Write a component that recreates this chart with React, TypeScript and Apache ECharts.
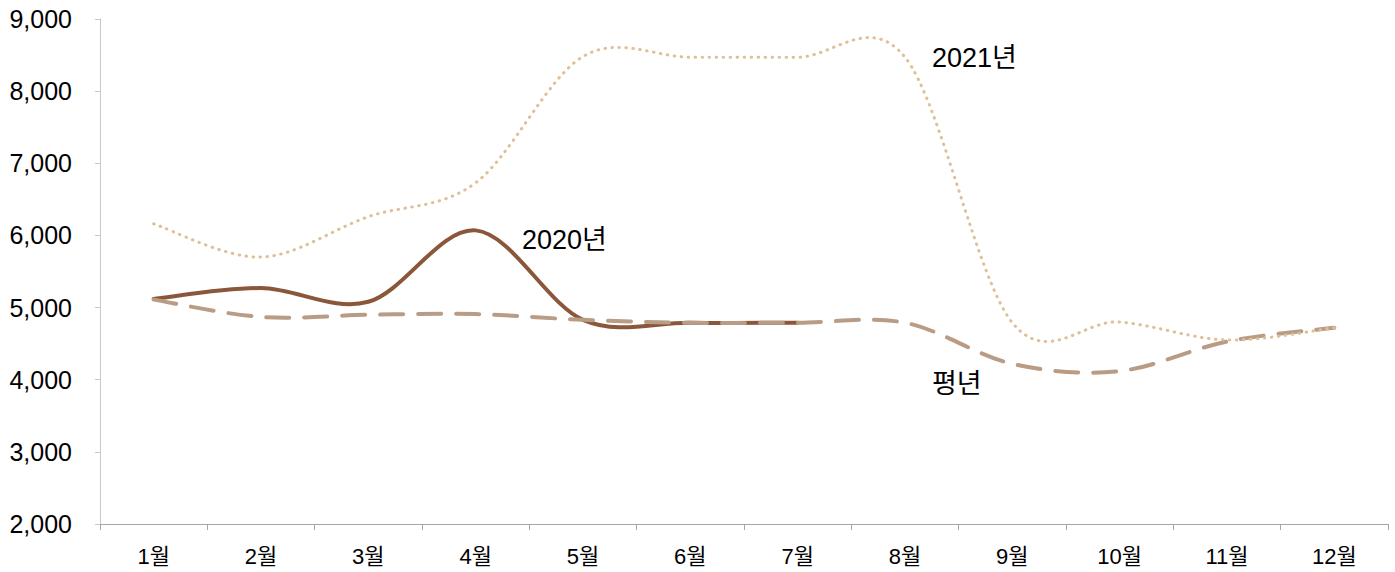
import React, { useEffect, useRef } from "react";
import * as echarts from "echarts";

const months = ["1월", "2월", "3월", "4월", "5월", "6월", "7월", "8월", "9월", "10월", "11월", "12월"];
const y2021 = [6160, 5700, 6260, 6730, 8480, 8470, 8470, 8470, 4790, 4800, 4550, 4720];
const y2020 = [5120, 5270, 5080, 6070, 4830, 4790, 4790, null, null, null, null, null];
const yNormal = [5110, 4870, 4900, 4910, 4830, 4790, 4790, 4790, 4220, 4120, 4530, 4720];
const yTicks = [2000, 3000, 4000, 5000, 6000, 7000, 8000, 9000];

const FONT = "'Liberation Sans', Arial, 'Noto Sans CJK KR', sans-serif";

function smoothSeries(name: string, values: (number | null)[], style: any, z: number) {
  return {
    type: "custom",
    name,
    z,
    data: values.map((v, i) => [i, v]).filter((d) => d[1] != null),
    encode: { x: 0, y: 1 },
    renderItem: (params: any, api: any) => {
      if (params.dataIndex !== 0) return null;
      const pts: number[][] = [];
      values.forEach((v, i) => {
        if (v != null) pts.push(api.coord([i, v]));
      });
      let d = `M${pts[0][0]},${pts[0][1]}`;
      for (let i = 0; i < pts.length - 1; i++) {
        const p0 = pts[i - 1] || pts[i];
        const p1 = pts[i];
        const p2 = pts[i + 1];
        const p3 = pts[i + 2] || pts[i + 1];
        const c1x = p1[0] + (p2[0] - p0[0]) / 6;
        const c1y = p1[1] + (p2[1] - p0[1]) / 6;
        const c2x = p2[0] - (p3[0] - p1[0]) / 6;
        const c2y = p2[1] - (p3[1] - p1[1]) / 6;
        d += ` C${c1x},${c1y} ${c2x},${c2y} ${p2[0]},${p2[1]}`;
      }
      return {
        type: "path",
        shape: { pathData: d },
        style: { fill: "none", ...style },
      };
    },
  };
}

export default function App() {
  const ref = useRef<HTMLDivElement>(null);
  useEffect(() => {
    if (!ref.current) return;
    const chart = echarts.init(ref.current, null, { renderer: "svg" });
    chart.setOption({
      animation: false,
      backgroundColor: "#ffffff",
      grid: { left: 100, right: 7, top: 19, bottom: 48, containLabel: false },
      xAxis: {
        type: "category",
        data: months,
        boundaryGap: true,
        axisLine: { show: true, lineStyle: { color: "#a6a6a6", width: 1 } },
        axisTick: { show: true, length: 6, lineStyle: { color: "#a6a6a6" } },
        axisLabel: { color: "#000", fontSize: 22, fontFamily: FONT, margin: 21 },
        splitLine: { show: false },
      },
      yAxis: {
        type: "value",
        min: yTicks[0],
        max: yTicks[yTicks.length - 1],
        interval: 1000,
        axisLine: { show: true, lineStyle: { color: "#c8c8c8", width: 1 } },
        axisTick: { show: true, length: 5, lineStyle: { color: "#c8c8c8" } },
        axisLabel: {
          color: "#000",
          fontSize: 25,
          fontFamily: FONT,
          margin: 28,
          formatter: (v: number) => v.toLocaleString("en-US"),
        },
        splitLine: { show: false },
      },
      series: [
        smoothSeries("2020년", y2020, { stroke: "#8a573a", lineWidth: 4, lineCap: "round" }, 2),
        smoothSeries("평년", yNormal, { stroke: "#b89c85", lineWidth: 4, lineDash: [23, 15], lineCap: "round" }, 3),
        smoothSeries("2021년", y2021, { stroke: "#dfbf98", lineWidth: 3, lineDash: [0.5, 6.5], lineCap: "round" }, 4),
      ],
      graphic: [
        { type: "text", left: 932, top: 44, style: { text: "2021년", fontSize: 27, fontFamily: FONT, fill: "#000" } },
        { type: "text", left: 522, top: 226, style: { text: "2020년", fontSize: 27, fontFamily: FONT, fill: "#000" } },
        { type: "text", left: 932, top: 370, style: { text: "평년", fontSize: 27, fontFamily: FONT, fill: "#000" } },
      ],
    });
    return () => chart.dispose();
  }, []);
  return (
    <div
      ref={ref}
      style={{ position: "fixed", left: 0, top: 0, width: 1395, height: 572, background: "#fff" }}
    />
  );
}
